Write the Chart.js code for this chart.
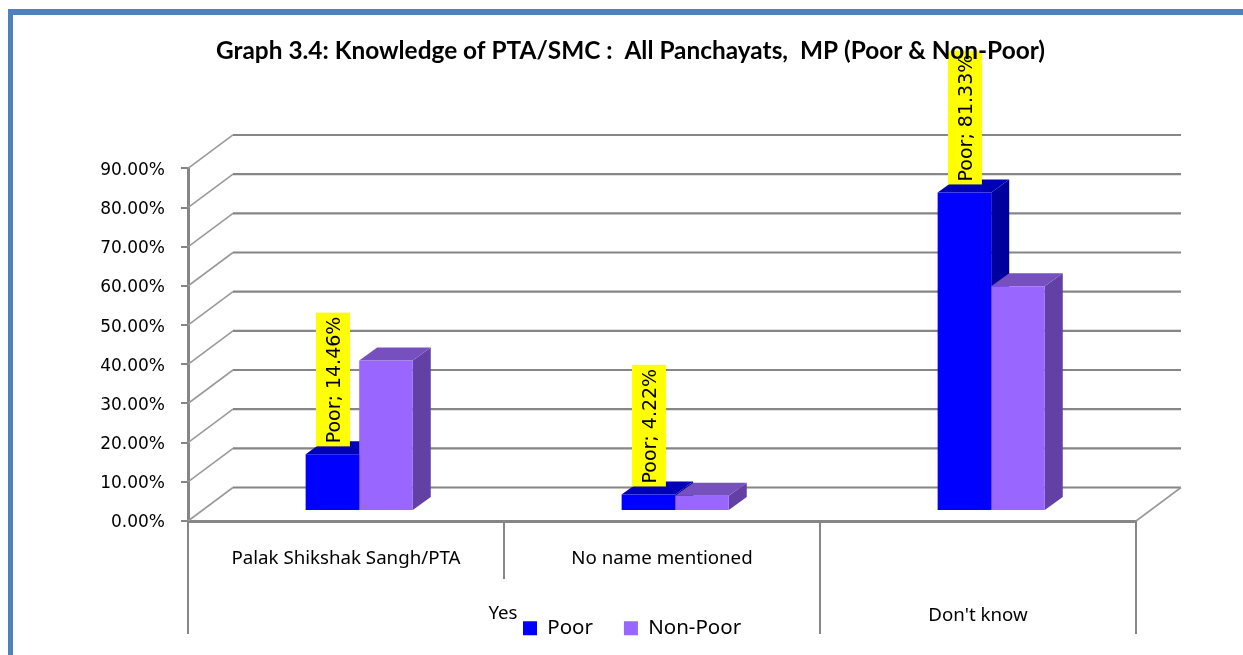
<!DOCTYPE html>
<html>
<head>
<meta charset="utf-8">
<script src="https://cdn.jsdelivr.net/npm/chart.js@4/dist/chart.umd.min.js"></script>
<style>
html,body{margin:0;padding:0;background:#fff;overflow:hidden}
canvas{display:block}
</style>
</head>
<body>
<canvas id="c" width="1243" height="655"></canvas>
<script>
const titleText = "Graph 3.4: Knowledge of PTA/SMC :  All Panchayats,  MP (Poor & Non-Poor)";
const categories = ["Palak Shikshak Sangh/PTA", "No name mentioned", "Don't know"];
const groupYes = "Yes";
const poorValues = [14.46, 4.22, 81.33];
const nonPoorValues = [38.4, 3.9, 57.4];
const poorName = "Poor";
const nonPoorName = "Non-Poor";

const GRID = '#868686';
const WALL = {dx: 45, dy: -33.5};
const FACE = {dx: 13.2, dy: -10};
const BAR = {dx: 18, dy: -13};
const shades = [
  {top: '#0000B4', side: '#00009E'},
  {top: '#7550BE', side: '#6240A6'}
];

function line(ctx, x1, y1, x2, y2, w, col) {
  ctx.beginPath(); ctx.moveTo(x1, y1); ctx.lineTo(x2, y2);
  ctx.lineWidth = w; ctx.strokeStyle = col; ctx.stroke();
}
function poly(ctx, pts, col) {
  ctx.beginPath(); ctx.moveTo(pts[0][0], pts[0][1]);
  for (let i = 1; i < pts.length; i++) ctx.lineTo(pts[i][0], pts[i][1]);
  ctx.closePath(); ctx.fillStyle = col; ctx.fill();
}

const scene3d = {
  id: 'scene3d',
  beforeLayout(chart) {
    const t = chart.titleBlock;
    if (t) t._layers = () => [{z: 10, draw(a) { t.draw(a); }}];
    const l = chart.legend;
    if (!l._wrapped) {
      const fit = l.fit;
      l.fit = function () { fit.call(this); this.height = 0; };
      l._wrapped = true;
    }
    const ys = chart.scales.y;
    if (ys && !ys._nudged) {
      const dl = ys.drawLabels;
      ys.drawLabels = function (a) {
        const c = this.ctx; c.save(); c.translate(0, 2); dl.call(this, a); c.restore();
      };
      ys._nudged = true;
    }
  },
  afterLayout(chart) {
    const t = chart.titleBlock;
    t.left = 130.5; t.right = 1130.5;
    const l = chart.legend;
    l.left = 492; l.right = 1243; l.top = 587; l.bottom = 655;
  },
  beforeDraw(chart) {
    const ctx = chart.ctx;
    ctx.save();
    ctx.fillStyle = '#4F81BD';
    ctx.fillRect(8, 9, 1235, 6);
    ctx.fillRect(8, 9, 5, 646);
    ctx.restore();
  },
  beforeDatasetsDraw(chart) {
    const ctx = chart.ctx, y = chart.scales.y;
    const a = chart.chartArea;
    ctx.save();
    y.ticks.forEach(t => {
      const py = y.getPixelForValue(t.value);
      line(ctx, a.left, py, a.left + WALL.dx, py + WALL.dy, 1.6, '#9a9a9a');
      line(ctx, a.left + WALL.dx, py + WALL.dy, a.right + WALL.dx, py + WALL.dy, 2.2, GRID);
    });
    line(ctx, a.right, a.bottom, a.right + WALL.dx, a.bottom + WALL.dy, 1.6, '#9a9a9a');
    const step = (a.right - a.left) / categories.length;
    line(ctx, a.left, a.bottom, a.left, 634, 2, GRID);
    line(ctx, a.left + step, a.bottom, a.left + step, 579, 2, GRID);
    line(ctx, a.left + 2 * step, a.bottom, a.left + 2 * step, 634, 2, GRID);
    line(ctx, a.right, a.bottom, a.right, 634, 2, GRID);
    ctx.font = '18.7px "Noto Sans"';
    ctx.fillStyle = '#000';
    ctx.textAlign = 'center';
    ctx.textBaseline = 'middle';
    ctx.fillText(groupYes, a.left + step - 1, 614);
    ctx.translate(FACE.dx, FACE.dy);
    [0, 1].forEach(d => {
      chart.getDatasetMeta(d).data.forEach(b => {
        const l = b.x - b.width / 2, r = b.x + b.width / 2;
        poly(ctx, [[r, b.y], [r + BAR.dx, b.y + BAR.dy], [r + BAR.dx, b.base + BAR.dy], [r, b.base]], shades[d].side);
        poly(ctx, [[l, b.y], [l + BAR.dx, b.y + BAR.dy], [r + BAR.dx, b.y + BAR.dy], [r, b.y]], shades[d].top);
      });
    });
  },
  afterDatasetsDraw(chart) {
    const ctx = chart.ctx;
    ctx.restore();
    ctx.save();
    const meta = chart.getDatasetMeta(0);
    ctx.font = '19px "DejaVu Sans"';
    meta.data.forEach((b, i) => {
      const txt = poorName + '; ' + poorValues[i].toFixed(2) + '%';
      const cx = b.x + FACE.dx + 0.5;
      const bottom = b.y + FACE.dy - 8;
      const h = ctx.measureText(txt).width + 7;
      ctx.fillStyle = '#FFFF00';
      ctx.fillRect(cx - 17, bottom - h, 34, h);
      ctx.save();
      ctx.translate(cx + 2.5, bottom - 3);
      ctx.rotate(-Math.PI / 2);
      ctx.fillStyle = '#000';
      ctx.textAlign = 'left';
      ctx.textBaseline = 'middle';
      ctx.fillText(txt, 0, 0);
      ctx.restore();
    });
    ctx.restore();
  }
};

new Chart(document.getElementById('c'), {
  type: 'bar',
  data: {
    labels: categories,
    datasets: [
      {label: poorName, data: poorValues, backgroundColor: '#0000FF', borderWidth: 0, clip: false,
       categoryPercentage: 0.339, barPercentage: 1},
      {label: nonPoorName, data: nonPoorValues, backgroundColor: '#9966FF', borderWidth: 0, clip: false,
       categoryPercentage: 0.339, barPercentage: 1}
    ]
  },
  plugins: [scene3d],
  options: {
    responsive: false,
    animation: false,
    layout: {padding: {left: 0, right: 107, top: 0, bottom: 0}},
    plugins: {
      tooltip: {enabled: false},
      title: {
        display: true, text: titleText, color: '#000',
        font: {family: 'Lato', size: 24.4, weight: 'bold', lineHeight: 1.2},
        padding: {top: 37, bottom: 102.2}
      },
      legend: {
        display: true, position: 'bottom', align: 'start',
        labels: {
          boxWidth: 14, boxHeight: 14, color: '#000', padding: 31,
          font: {family: '"Noto Sans"', size: 20.5}
        }
      }
    },
    scales: {
      x: {
        type: 'category',
        offset: true,
        border: {display: true, color: GRID, width: 3},
        grid: {display: false},
        afterFit(s) { s.height = 134; },
        ticks: {
          color: '#000', maxRotation: 0, autoSkip: false, padding: 1,
          font: {family: '"Noto Sans"', size: 18.7, lineHeight: 3.05},
          callback(v, i) { return i === 2 ? ['', categories[i]] : categories[i]; }
        }
      },
      y: {
        min: 0, max: 90,
        border: {display: true, color: GRID, width: 3},
        grid: {drawOnChartArea: false, drawTicks: true, tickLength: 7, color: GRID, lineWidth: 2},
        afterFit(s) { s.width = 188; },
        ticks: {
          stepSize: 10, color: '#000', padding: 16,
          font: {family: '"DejaVu Sans"', size: 17},
          callback(v) { return v.toFixed(2) + '%'; }
        }
      }
    }
  }
});
</script>
</body>
</html>
